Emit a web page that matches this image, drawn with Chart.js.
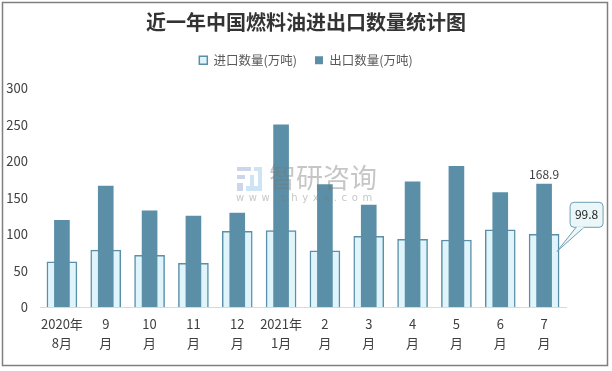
<!DOCTYPE html>
<html>
<head>
<meta charset="utf-8">
<style>
  html, body { margin: 0; padding: 0; background: #fff; }
  #wrap { position: relative; width: 612px; height: 371px; }
</style>
<script src="https://cdn.jsdelivr.net/npm/chart.js@4"></script>
</head>
<body>
<div id="wrap"><canvas id="grafico" width="612" height="371"></canvas></div>
<script>
const categorias = [['2020年','8月'],['9','月'],['10','月'],['11','月'],['12','月'],['2021年','1月'],['2','月'],['3','月'],['4','月'],['5','月'],['6','月'],['7','月']];
const importaciones = [62, 78, 71, 60, 104, 105, 77, 97, 93, 92, 106, 99.8];
const exportaciones = [119, 166, 132, 125, 129, 250, 168, 140, 172, 193, 157, 168.9];
const nombres = ['进口数量(万吨)', '出口数量(万吨)'];
const FUENTE = '"Noto Sans CJK SC", "Noto Sans", sans-serif';

// deja espacio debajo de la leyenda
const espacioLeyenda = {
  id: 'espacioLeyenda',
  beforeInit(chart) {
    const fit = chart.legend.fit;
    chart.legend.fit = function () {
      fit.call(this);
      this.height += 12;
    };
  }
};

// etiquetas del ultimo mes, marca de agua y borde
const extras = {
  id: 'extras',
  afterDraw(chart) {
    const c = chart.ctx;
    const expo = chart.getDatasetMeta(1).data[11];
    const impo = chart.getDatasetMeta(0).data[11];
    c.save();
    c.font = '12px ' + FUENTE;
    c.fillStyle = '#404040';
    c.textAlign = 'center';
    c.textBaseline = 'bottom';
    c.fillText(exportaciones[11], expo.x, expo.y - 4);

    // globo del 99.8
    const bx = impo.x + 26, by = impo.y - 32, bw = 33, bh = 25;
    c.beginPath();
    c.roundRect(bx, by, bw, bh, 4);
    c.fillStyle = '#eaf6f8';
    c.strokeStyle = '#6f9fb3';
    c.lineWidth = 1;
    c.fill();
    c.stroke();
    c.beginPath();
    c.moveTo(impo.x + 13, impo.y + 17);
    c.lineTo(bx + 6, by + bh);
    c.lineTo(bx + 14, by + bh);
    c.closePath();
    c.fill();
    c.stroke();
    c.fillStyle = '#eaf6f8';
    c.fillRect(bx + 6.5, by + bh - 1, 7, 2);
    c.fillStyle = '#222';
    c.textBaseline = 'middle';
    c.fillText(importaciones[11], bx + bw / 2, by + bh / 2);

    // marca de agua
    c.fillStyle = 'rgba(120,120,120,0.42)';
    c.font = '27px ' + FUENTE;
    c.textAlign = 'left';
    c.textBaseline = 'middle';
    c.fillText('智研咨询', 269, 178);
    c.font = '10px "DejaVu Sans", sans-serif';
    c.letterSpacing = '4.6px';
    c.fillText('www.chyxx.com', 236, 198);
    c.letterSpacing = '0px';
    c.fillStyle = 'rgba(170,185,220,0.6)';
    c.fillRect(237, 167, 14, 4);
    c.fillRect(237, 175, 8, 4);
    c.fillRect(237, 183, 6, 8);
    c.fillStyle = 'rgba(170,210,235,0.6)';
    c.fillRect(254, 167, 8, 4);
    c.fillRect(258, 171, 4, 20);
    c.fillRect(246, 186, 12, 5);
    c.fillRect(250, 175, 4, 11);

    // borde exterior
    c.strokeStyle = '#7f7f7f';
    c.lineWidth = 1.5;
    c.strokeRect(2.5, 2.5, 605, 363);
    c.restore();
  }
};

new Chart(document.getElementById('grafico'), {
  type: 'bar',
  data: {
    labels: categorias,
    datasets: [
      {
        label: nombres[0],
        data: importaciones,
        backgroundColor: '#e0f5fb',
        borderColor: '#5b8fa8',
        borderWidth: 1.5,
        barThickness: 30,
        grouped: false,
        order: 2
      },
      {
        label: nombres[1],
        data: exportaciones,
        backgroundColor: '#5b8fa8',
        borderColor: '#5b8fa8',
        borderWidth: 0,
        barThickness: 15,
        grouped: false,
        order: 1
      }
    ]
  },
  plugins: [extras, espacioLeyenda],
  options: {
    responsive: false,
    animation: false,
    layout: { padding: { top: 6 } },
    plugins: {
      title: {
        display: true,
        text: '近一年中国燃料油进出口数量统计图',
        color: '#333',
        font: { family: FUENTE, size: 20, weight: 'bold' },
        padding: { top: 4, bottom: 2 }
      },
      legend: {
        position: 'top',
        labels: {
          boxWidth: 8,
          boxHeight: 8,
          color: '#595959',
          font: { family: FUENTE, size: 12.5 },
          padding: 18,
          sort: (a, b) => a.datasetIndex - b.datasetIndex
        }
      },
      tooltip: { enabled: false }
    },
    scales: {
      x: {
        grid: { display: false, drawTicks: false },
        border: { color: '#d9d9d9', width: 1 },
        ticks: {
          autoSkip: false,
          maxRotation: 0,
          padding: 8,
          color: '#404040',
          font: { family: FUENTE, size: 13, lineHeight: 1.45 }
        },
        afterFit(s) { s.height = 64; }
      },
      y: {
        min: 0,
        max: 300,
        grid: { display: false, drawTicks: false },
        border: { display: false },
        ticks: {
          stepSize: 50,
          padding: 12,
          color: '#404040',
          font: { family: FUENTE, size: 13 }
        },
        afterFit(s) { s.width = 40; }
      },
      // eje vacio: reserva el margen derecho para que el titulo quede centrado
      margen: {
        position: 'right',
        display: true,
        grid: { display: false, drawTicks: false },
        border: { display: false },
        ticks: { display: false },
        afterFit(s) { s.width = 46; }
      }
    }
  }
});
</script>
</body>
</html>
